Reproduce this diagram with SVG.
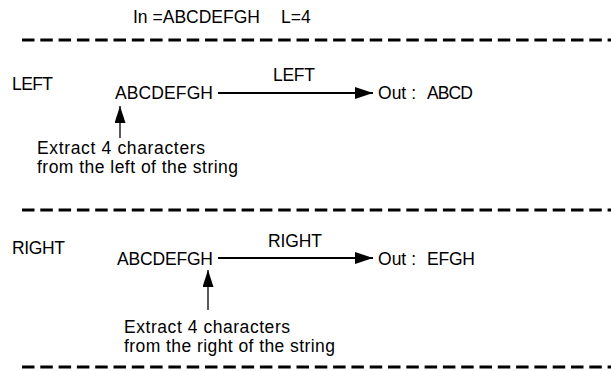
<svg xmlns="http://www.w3.org/2000/svg" width="611" height="371" viewBox="0 0 611 371">
<defs>
<marker id="ah" markerWidth="18" markerHeight="12" refX="18" refY="6" orient="auto" markerUnits="userSpaceOnUse">
<path d="M0,0 L18,6 L0,12 Z" fill="#000"/>
</marker>
<marker id="ahs" markerWidth="17" markerHeight="11" refX="17" refY="5.5" orient="auto" markerUnits="userSpaceOnUse">
<path d="M0,0 L17,5.5 L0,11 Z" fill="#000"/>
</marker>
<style>
text{font-family:"Liberation Sans",Arial,sans-serif;font-size:17.5px;fill:#000}
.dash{stroke:#000;stroke-width:3;stroke-dasharray:12.5 5.8;fill:none}
.conn{stroke:#000;stroke-width:2;fill:none}
.up{stroke:#000;stroke-width:1.3;fill:none}
</style>
</defs>
<rect width="611" height="371" fill="#fff"/>
<g id="title">
<text x="133" y="23" textLength="127" lengthAdjust="spacing">In =ABCDEFGH</text>
<text x="281" y="23">L=4</text>
</g>
<g id="separators">
<line class="dash" x1="22" y1="40" x2="611" y2="40"/>
<line class="dash" x1="22" y1="210" x2="611" y2="210"/>
<line class="dash" x1="22" y1="367" x2="611" y2="367"/>
</g>
<g id="left-label"><text x="12" y="90" textLength="41" lengthAdjust="spacing">LEFT</text></g>
<g id="left-input"><text x="115" y="99" textLength="98" lengthAdjust="spacing">ABCDEFGH</text></g>
<g id="left-output"><text x="378" y="99" textLength="38" lengthAdjust="spacing">Out :</text><text x="427" y="99" textLength="46" lengthAdjust="spacing">ABCD</text></g>
<g id="left-note">
<text x="37" y="154" textLength="168" lengthAdjust="spacing">Extract 4 characters</text>
<text x="37" y="173" textLength="201" lengthAdjust="spacing">from the left of the string</text>
</g>
<g id="right-label"><text x="12" y="254" textLength="53" lengthAdjust="spacing">RIGHT</text></g>
<g id="right-input"><text x="117" y="265" textLength="96" lengthAdjust="spacing">ABCDEFGH</text></g>
<g id="right-output"><text x="378" y="265" textLength="38" lengthAdjust="spacing">Out :</text><text x="427" y="265" textLength="48" lengthAdjust="spacing">EFGH</text></g>
<g id="right-note">
<text x="124" y="333" textLength="166" lengthAdjust="spacing">Extract 4 characters</text>
<text x="124" y="352" textLength="211" lengthAdjust="spacing">from the right of the string</text>
</g>
<g id="connectors">
<line class="conn" x1="218" y1="93" x2="373" y2="93" marker-end="url(#ah)"/>
<text x="273" y="81" textLength="42" lengthAdjust="spacing">LEFT</text>
<line class="up" x1="120" y1="138" x2="120" y2="106" marker-end="url(#ahs)"/>
<line class="conn" x1="218" y1="258" x2="373" y2="258" marker-end="url(#ah)"/>
<text x="268" y="247" textLength="54" lengthAdjust="spacing">RIGHT</text>
<line class="up" x1="208" y1="310" x2="208" y2="270" marker-end="url(#ahs)"/>
</g>
</svg>
